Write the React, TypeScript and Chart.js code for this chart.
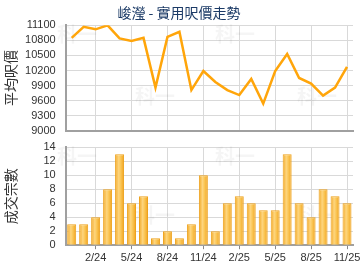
import React, { useEffect, useRef } from "react";
import { Chart, registerables } from "chart.js";

Chart.register(...registerables);

const categories = [
  "12/23", "1/24", "2/24", "3/24", "4/24", "5/24", "6/24", "7/24", "8/24", "9/24", "10/24", "11/24",
  "12/24", "1/25", "2/25", "3/25", "4/25", "5/25", "6/25", "7/25", "8/25", "9/25", "10/25", "11/25",
];
const shownLabels = ["2/24", "5/24", "8/24", "11/24", "2/25", "5/25", "8/25", "11/25"];
const avgPrice = [
  10850, 11070, 11020, 11100, 10840, 10790, 10850, 9860, 10870, 10970, 9810, 10190,
  9970, 9810, 9710, 10030, 9540, 10190, 10530, 10050, 9940, 9700, 9860, 10270,
];
const transactions = [3, 3, 4, 8, 13, 6, 7, 1, 2, 1, 3, 10, 2, 6, 7, 6, 5, 5, 13, 6, 4, 8, 7, 6];
const priceTicks = [9000, 9300, 9600, 9900, 10200, 10500, 10800, 11100];
const countTicks = [0, 2, 4, 6, 8, 10, 12, 14];

const chartTitle = "峻瀅 - 實用呎價走勢";
const priceAxisTitle = "平均呎價";
const countAxisTitle = "成交宗數";
const watermark = "科一";

const FONT = "'Liberation Sans', Arial, sans-serif";
const GRID = "#d9d9d9";
const AXIS = "#a0a0a0";
const ORANGE = "#ffa50a";

const isShown = (i: number) => shownLabels.includes(categories[i]);

const makeWatermark = (spots: [number, number][]) => ({
  id: "wm",
  beforeDatasetsDraw(chart: any) {
    const ctx = chart.ctx;
    ctx.save();
    ctx.fillStyle = "rgba(0,0,0,0.04)";
    ctx.font = "bold 20px 'Noto Sans CJK TC', sans-serif";
    ctx.textBaseline = "middle";
    for (const [x, y] of spots) ctx.fillText(watermark, x, y);
    ctx.restore();
  },
});

const titlePlugin = {
  id: "ttl",
  afterDraw(chart: any) {
    const ctx = chart.ctx;
    ctx.save();
    ctx.fillStyle = "#1b3a66";
    ctx.font = "14px 'Noto Sans CJK TC', sans-serif";
    ctx.textAlign = "center";
    ctx.textBaseline = "middle";
    ctx.fillText(chartTitle, 179, 13);
    ctx.restore();
  },
};

const xScale = (showLabels: boolean) => ({
  type: "category" as const,
  offset: true,
  afterFit: (s: any) => {
    s.paddingLeft = 0;
    s.paddingRight = 0;
  },
  grid: {
    offset: false,
    color: (c: any) => (isShown(c.index) ? GRID : "rgba(0,0,0,0)"),
    tickColor: (c: any) => (isShown(c.index) ? "#888" : "rgba(0,0,0,0)"),
    drawTicks: showLabels,
    tickLength: 4,
    lineWidth: 1,
  },
  border: { color: AXIS, width: 2 },
  ticks: {
    display: showLabels,
    autoSkip: false,
    maxRotation: 0,
    padding: 2,
    color: "#333",
    font: { family: FONT, size: 11 },
    callback: (_v: any, i: number) => (isShown(i) ? categories[i] : ""),
  },
});

const yScale = (ticks: number[], title: string) => ({
  min: ticks[0],
  max: ticks[ticks.length - 1],
  afterBuildTicks: (s: any) => {
    s.ticks = ticks.map((v) => ({ value: v }));
  },
  afterFit: (s: any) => {
    s.width = 65.7;
    s.paddingTop = 0;
    s.paddingBottom = 0;
  },
  grid: { color: GRID, drawTicks: false, lineWidth: 1 },
  border: { color: AXIS, width: 2 },
  ticks: {
    autoSkip: false,
    color: "#333",
    padding: 10,
    font: { family: FONT, size: 11 },
    callback: (v: any) => String(v),
  },
  title: {
    display: true,
    text: title,
    color: "#333",
    padding: { top: 2, bottom: 0 },
    font: { family: "'Noto Sans CJK TC', sans-serif", size: 14 },
  },
});

export default function App() {
  const topRef = useRef<HTMLCanvasElement>(null);
  const botRef = useRef<HTMLCanvasElement>(null);

  useEffect(() => {
    const top = new Chart(topRef.current!, {
      type: "line",
      data: {
        labels: categories,
        datasets: [
          {
            data: avgPrice,
            borderColor: ORANGE,
            borderWidth: 2.5,
            pointRadius: 0,
            tension: 0,
            fill: false,
          },
        ],
      },
      options: {
        animation: false,
        responsive: false,
        layout: { padding: { top: 25.3, right: 7, bottom: 4.3, left: 0 } },
        plugins: { legend: { display: false }, tooltip: { enabled: false }, title: { display: false } },
        scales: { x: xScale(false), y: yScale(priceTicks, priceAxisTitle) },
      },
      plugins: [makeWatermark([[57, 34], [215, 34], [135, 96], [297, 96]]), titlePlugin],
    });

    const bot = new Chart(botRef.current!, {
      type: "bar",
      data: {
        labels: categories,
        datasets: [
          {
            data: transactions,
            categoryPercentage: 1,
            barPercentage: 0.75,
            borderColor: "#eea21c",
            borderWidth: 1,
            borderSkipped: "bottom",
            backgroundColor: (c: any) => {
              const chart = c.chart;
              const xs = chart.scales && chart.scales.x;
              if (!xs || !isFinite(xs.left)) return "#f8b83a";
              const x = xs.getPixelForValue(c.dataIndex);
              if (!isFinite(x)) return "#f8b83a";
              const g = chart.ctx.createLinearGradient(x - 4.5, 0, x + 4.5, 0);
              g.addColorStop(0, "#f2a61f");
              g.addColorStop(0.4, "#fdd57f");
              g.addColorStop(0.6, "#fbc85a");
              g.addColorStop(1, "#f0a21c");
              return g;
            },
          },
        ],
      },
      options: {
        animation: false,
        responsive: false,
        layout: { padding: { top: 12.3, right: 7, bottom: 3.6, left: 0 } },
        plugins: { legend: { display: false }, tooltip: { enabled: false } },
        scales: { x: xScale(true), y: yScale(countTicks, countAxisTitle) },
      },
      plugins: [makeWatermark([[57, 21], [215, 21], [135, 80], [297, 80]])],
    });

    return () => {
      top.destroy();
      bot.destroy();
    };
  }, []);

  return (
    <div style={{ position: "fixed", left: 0, top: 0, width: 360, height: 270, background: "#fff" }}>
      <canvas ref={topRef} width={360} height={135} style={{ display: "block", width: 360, height: 135 }} />
      <canvas ref={botRef} width={360} height={135} style={{ display: "block", width: 360, height: 135 }} />
    </div>
  );
}
